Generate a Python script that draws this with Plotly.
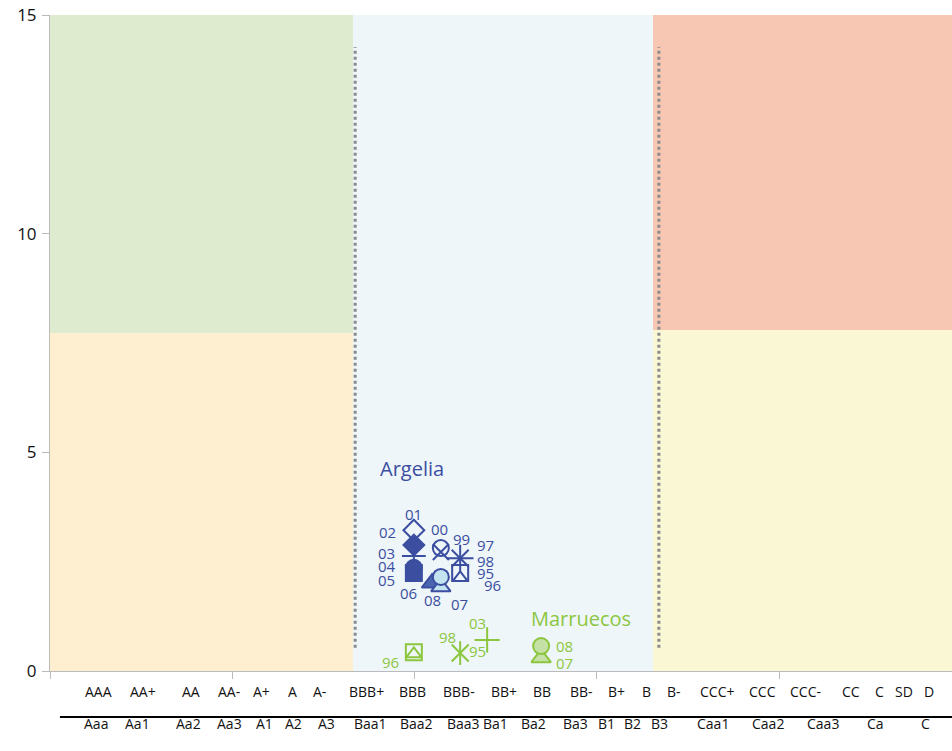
import plotly.graph_objects as go

# rating scale labels (top: S&P/Fitch, bottom: Moody's) and their x positions
sp_labels = ["AAA", "AA+", "AA", "AA-", "A+", "A", "A-", "BBB+", "BBB", "BBB-", "BB+", "BB",
             "BB-", "B+", "B", "B-", "CCC+", "CCC", "CCC-", "CC", "C", "SD", "D"]
sp_pos = [1.32, 2.55, 3.87, 4.91, 5.81, 6.64, 7.38, 8.67, 9.93, 11.22, 12.45, 13.50,
          14.59, 15.55, 16.37, 17.11, 18.29, 19.53, 20.73, 21.97, 22.76, 23.42, 24.11]
moody_labels = ["Aaa", "Aa1", "Aa2", "Aa3", "A1", "A2", "A3", "Baa1", "Baa2", "Baa3", "Ba1",
                "Ba2", "Ba3", "B1", "B2", "B3", "Caa1", "Caa2", "Caa3", "Ca", "C"]
moody_pos = [1.26, 2.39, 3.81, 4.91, 5.87, 6.67, 7.57, 8.80, 10.04, 11.33, 12.21,
             13.25, 14.40, 15.25, 15.99, 16.73, 18.18, 19.69, 21.20, 22.65, 24.00]

# Argelia
arg_years = ["95", "96", "97", "98", "99", "00", "01", "02", "03", "04", "05", "06", "07", "08"]
arg_x = [11.25, 11.25, 11.25, 11.25, 10.72, 10.72, 9.98, 9.98, 9.98, 9.98, 9.98, 10.48, 10.72, 10.72]
arg_y = [2.24, 2.13, 2.58, 2.58, 2.72, 2.81, 3.22, 2.88, 2.63, 2.36, 2.24, 2.01, 1.92, 2.15]

# Marruecos
mar_years = ["96", "", "98", "95", "03", "07", "08"]
mar_x = [9.98, 9.98, 11.25, 11.25, 11.99, 13.47, 13.47]
mar_y = [0.43, 0.39, 0.41, 0.41, 0.71, 0.30, 0.57]

# background zones
zone_x = [0, 8.31, 16.54, 24.74]
zone_y_left = 7.73
zone_y_right = 7.80
divider_x = [8.37, 16.70]

BLUE = "#3b4ea0"
GREEN = "#8cc63f"

arg_style = {
    "95": ("square-open", BLUE, 16),
    "96": ("triangle-up-open", BLUE, 13),
    "97": ("x-thin-open", BLUE, 17),
    "98": ("cross-thin-open", BLUE, 19),
    "99": ("x-thin-open", BLUE, 16),
    "00": ("circle-open", BLUE, 16),
    "01": ("diamond-open", BLUE, 16),
    "02": ("diamond", BLUE, 16),
    "03": ("cross-thin-open", BLUE, 17),
    "04": ("circle", BLUE, 16),
    "05": ("square", BLUE, 16),
    "06": ("triangle-up", "#4a66b0", 18),
    "07": ("triangle-up", "#c3e3f1", 17),
    "08": ("circle", "#c3e3f1", 16),
}
arg_offsets = {
    "95": (25, 0), "96": (32, -7), "97": (25, 13), "98": (25, -3), "99": (21, 13),
    "00": (-1, 19), "01": (0, 16), "02": (-26, 13), "03": (-27, 3), "04": (-27, 2),
    "05": (-27, -7), "06": (-24, -10), "07": (19, -17), "08": (-8, -23),
}
mar_symbols = ["square-open", "triangle-up-open", "x-thin-open", "line-ns-open",
               "cross-thin-open", "triangle-up", "circle"]
mar_fill = [GREEN, GREEN, GREEN, GREEN, GREEN, "#c5e1a5", "#c5e1a5"]
mar_sizes = [16, 13, 17, 17, 18, 17, 16]
mar_offsets = [(-23, -10), (0, 0), (-13, 16), (17, 2), (-10, 17), (23, -5), (23, 0)]

fig = go.Figure()

for i, yr in enumerate(arg_years):
    sym, col, sz = arg_style[yr]
    fig.add_trace(go.Scatter(
        x=[arg_x[i]], y=[arg_y[i]], mode="markers", showlegend=False,
        marker=dict(symbol=sym, size=sz, color=col, line=dict(color=BLUE, width=2))))

for i, yr in enumerate(mar_years):
    fig.add_trace(go.Scatter(
        x=[mar_x[i]], y=[mar_y[i]], mode="markers", showlegend=False,
        marker=dict(symbol=mar_symbols[i], size=mar_sizes[i], color=mar_fill[i],
                    line=dict(color=GREEN, width=2))))

# zones
zone_colors = [("#dfebcf", "#fdefcf"), ("#eef6fa", "#eef6fa"), ("#f7c7b3", "#faf7d5")]
for i, (top, bottom) in enumerate(zone_colors):
    split = zone_y_left if i == 0 else zone_y_right
    fig.add_shape(type="rect", x0=zone_x[i], x1=zone_x[i + 1], y0=split, y1=15.3,
                  fillcolor=top, line_width=0, layer="below")
    fig.add_shape(type="rect", x0=zone_x[i], x1=zone_x[i + 1], y0=0, y1=split,
                  fillcolor=bottom, line_width=0, layer="below")

for dx in divider_x:
    fig.add_shape(type="line", x0=dx, x1=dx, y0=0.53, y1=14.27,
                  line=dict(color="#8a8a8a", width=3, dash="dot"))

# separator between the two rating rows
fig.add_shape(type="line", xref="paper", yref="paper", x0=0.011, x1=1.0, y0=-0.070, y1=-0.070,
              line=dict(color="black", width=2))

ann = []
for lab, p in zip(sp_labels, sp_pos):
    ann.append(dict(x=p, y=-0.049, xref="x", yref="paper", text=lab, showarrow=False,
                    font=dict(size=14, color="#111")))
for lab, p in zip(moody_labels, moody_pos):
    ann.append(dict(x=p, y=-0.098, xref="x", yref="paper", text=lab, showarrow=False,
                    font=dict(size=14, color="#111")))

for i, yr in enumerate(arg_years):
    dx, dy = arg_offsets[yr]
    ann.append(dict(x=arg_x[i], y=arg_y[i], text=yr, showarrow=False, xshift=dx, yshift=dy,
                    font=dict(size=15, color=BLUE)))
for i, yr in enumerate(mar_years):
    if yr:
        dx, dy = mar_offsets[i]
        ann.append(dict(x=mar_x[i], y=mar_y[i], text=yr, showarrow=False, xshift=dx, yshift=dy,
                        font=dict(size=15, color=GREEN)))

ann.append(dict(x=9.93, y=4.64, text="Argelia", showarrow=False, font=dict(size=20, color=BLUE)))
ann.append(dict(x=14.56, y=1.19, text="Marruecos", showarrow=False, font=dict(size=20, color=GREEN)))

fig.update_layout(
    width=952, height=751,
    margin=dict(l=50, r=0, t=15, b=80),
    plot_bgcolor="white", paper_bgcolor="white",
    font=dict(family="Open Sans, Noto Sans, sans-serif"),
    annotations=ann,
    xaxis=dict(range=[0, 24.74], tick0=0, dtick=5, ticks="outside", ticklen=7,
               tickcolor="#bbbbbb", showticklabels=False, showgrid=False, zeroline=False,
               showline=True, linecolor="#bbbbbb", linewidth=1, automargin=False),
    yaxis=dict(range=[0, 15], tick0=0, dtick=5, ticks="outside", ticklen=7,
               tickcolor="#bbbbbb", showgrid=False, zeroline=False,
               showline=True, linecolor="#bbbbbb", linewidth=1, automargin=False,
               ticklabelstandoff=2, tickfont=dict(size=17, color="#111")),
)

# drop the default page margin so the figure sits at the window's top-left corner
fig.write_html("out.html", config={"displayModeBar": False},
               post_script="document.body.style.margin='0';")
